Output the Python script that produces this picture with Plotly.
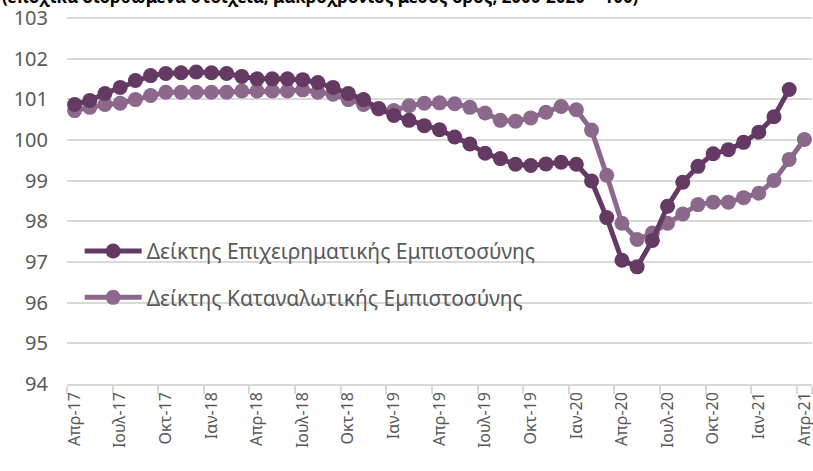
import plotly.graph_objects as go

# ---- data ----
month_names = ["Ιαν", "Φεβ", "Μαρ", "Απρ", "Μαϊ", "Ιουν", "Ιουλ", "Αυγ", "Σεπ", "Οκτ", "Νοε", "Δεκ"]
months = []
for k in range(49):
    m = (3 + k) % 12
    yr = 17 + (3 + k) // 12
    months.append(f"{month_names[m]}-{yr}")

business = [100.87, 100.97, 101.14, 101.29, 101.46, 101.58, 101.63, 101.65, 101.67, 101.65,
            101.63, 101.56, 101.50, 101.50, 101.50, 101.48, 101.41, 101.29, 101.14, 100.99,
            100.77, 100.60, 100.48, 100.35, 100.25, 100.07, 99.90, 99.67, 99.54, 99.40,
            99.37, 99.41, 99.45, 99.40, 98.99, 98.09, 97.04, 96.88, 97.53, 98.37,
            98.96, 99.35, 99.66, 99.76, 99.94, 100.19, 100.57, 101.24]

consumer = [100.72, 100.80, 100.87, 100.90, 100.99, 101.09, 101.17, 101.17, 101.17, 101.17,
            101.17, 101.20, 101.20, 101.20, 101.20, 101.23, 101.17, 101.12, 100.99, 100.87,
            100.76, 100.72, 100.84, 100.90, 100.91, 100.89, 100.80, 100.66, 100.48, 100.46,
            100.54, 100.68, 100.82, 100.74, 100.24, 99.13, 97.95, 97.55, 97.71, 97.95,
            98.18, 98.41, 98.47, 98.47, 98.58, 98.69, 99.00, 99.52, 100.01]

tick_labels = months[::3]
y_ticks = [94, 95, 96, 97, 98, 99, 100, 101, 102, 103]

series_names = ["Δείκτης Επιχειρηματικής Εμπιστοσύνης", "Δείκτης Καταναλωτικής Εμπιστοσύνης"]
colors = ["#643A64", "#8C698C"]

fig = go.Figure()
# consumer drawn first so business sits on top
fig.add_trace(go.Scatter(
    x=months, y=consumer, name=series_names[1], mode="lines+markers",
    line=dict(color=colors[1], width=5), marker=dict(size=15, color=colors[1]),
    legendgroup="b", legendrank=2))
fig.add_trace(go.Scatter(
    x=months[:len(business)], y=business, name=series_names[0], mode="lines+markers",
    line=dict(color=colors[0], width=5), marker=dict(size=15, color=colors[0]),
    legendgroup="a", legendrank=1))

fig.update_layout(
    width=813, height=471,
    margin=dict(l=67, r=1, t=15.5, b=87.3, autoexpand=False),
    paper_bgcolor="white", plot_bgcolor="white",
    font=dict(family="Noto Sans", color="#595959"),
    showlegend=True,
    legend=dict(
        x=0.017, y=0.416, xanchor="left", yanchor="top",
        bgcolor="rgba(0,0,0,0)", font=dict(size=21, color="#595959"),
        traceorder="grouped", tracegroupgap=16, itemwidth=57,
    ),
    annotations=[dict(
        text="<b>(εποχικά διορθωμένα στοιχεία, μακροχρόνιος μέσος όρος, 2000-2020 = 100)</b>",
        xref="paper", yref="paper", x=-0.09, y=1, xanchor="left", yanchor="bottom",
        yshift=6, showarrow=False, font=dict(size=17, color="#000000", family="Noto Sans"),
    )],
    shapes=[dict(
        type="line", xref="paper", x0=0, x1=1, yref="y", y0=y_ticks[-1], y1=y_ticks[-1],
        line=dict(color="#d9d9d9", width=1.5), layer="below",
    )],
)

fig.update_xaxes(
    type="category", categoryorder="array", categoryarray=months,
    range=[-0.5, 48.5], automargin=False,
    tickmode="array", tickvals=tick_labels, ticktext=tick_labels,
    tickangle=-90, tickfont=dict(size=16, color="#595959"), ticklabeloverflow="allow",
    showgrid=False, showline=True, linecolor="#d9d9d9", linewidth=1.5,
    ticks="outside", tickson="boundaries", ticklen=8, tickcolor="#d9d9d9", tickwidth=1.5,
)
fig.update_yaxes(
    range=[94, 103.045], tickvals=y_ticks, ticktext=[str(v) for v in y_ticks], automargin=False,
    tickfont=dict(size=20, color="#595959"), ticklabeloverflow="allow",
    showgrid=True, gridcolor="#d9d9d9", gridwidth=1.5, zeroline=False,
    ticks="", ticklabelstandoff=18,
)

# remove the default 8px page margin so the figure fills the window exactly
fig.write_html("out.html", config={"displayModeBar": False},
               post_script="document.body.style.margin='0';")
